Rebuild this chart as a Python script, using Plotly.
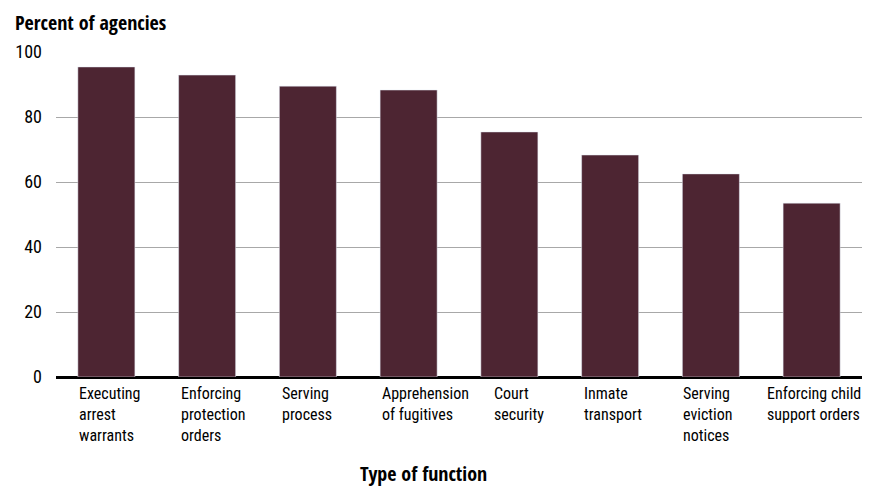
import plotly.graph_objects as go

categories = ["Executing<br>arrest<br>warrants", "Enforcing<br>protection<br>orders", "Serving<br>process",
              "Apprehension<br>of fugitives", "Court<br>security", "Inmate<br>transport",
              "Serving<br>eviction<br>notices", "Enforcing child<br>support orders"]
values = [95.4, 92.9, 89.5, 88.3, 75.4, 68.3, 62.5, 53.5]
y_ticks = [0, 20, 40, 60, 80, 100]

# horizontal pixel nudges of the left-aligned category labels (layout only)
label_shift = [-29, -28, -28, -29, -17, -28, -30, -47]

FONT = "Roboto Condensed, Roboto, sans-serif"
BOLD = "Open Sans Condensed, Roboto Condensed, sans-serif"
BAR = "#4d2532"

# page body has an 8px margin: figure is sized/margined so the plot lands where the reference has it
W, H = 869, 479
L, R, T, B = 48, 15, 44, 110
PW, PH = W - L - R, H - T - B

x_idx = list(range(len(categories)))
fig = go.Figure(go.Bar(x=x_idx, y=values, marker_color=BAR, width=0.566, hoverinfo="skip"))

annotations = []
for i, lab, sh in zip(x_idx, categories, label_shift):
    annotations.append(dict(x=i, y=0, xref="x", yref="y", text=lab, showarrow=False,
                            xanchor="left", yanchor="top", align="left", xshift=sh, yshift=-5,
                            font=dict(family=FONT, size=16, color="black")))
annotations.append(dict(x=(423 - 56) / PW, y=(377 - 473) / PH, xref="paper", yref="paper",
                        text="<b>Type of function</b>", showarrow=False, xanchor="center", yanchor="middle",
                        font=dict(family=BOLD, size=20, color="black")))
annotations.append(dict(x=(13 - 56) / PW, y=(377 - 22) / PH, xref="paper", yref="paper",
                        text="<b>Percent of agencies</b>", showarrow=False, xanchor="left", yanchor="middle",
                        font=dict(family=BOLD, size=20, color="black")))

fig.update_layout(
    width=W, height=H,
    margin=dict(l=L, r=R, t=T, b=B, autoexpand=False),
    plot_bgcolor="white", paper_bgcolor="white",
    showlegend=False,
    annotations=annotations,
    font=dict(family=FONT, color="black"),
)
fig.update_xaxes(range=[-0.5, 7.5], showticklabels=False, showgrid=False, zeroline=False,
                 showline=False, ticks="", automargin=False)
fig.update_yaxes(range=[0, 100], tickvals=y_ticks, showgrid=True, gridcolor="#a8a8a8", gridwidth=1.2,
                 zeroline=True, zerolinecolor="black", zerolinewidth=2.5, showline=False, automargin=False,
                 ticks="", ticklabelstandoff=13, tickfont=dict(family=FONT, size=18, color="black"))

fig.write_html("out.html")
